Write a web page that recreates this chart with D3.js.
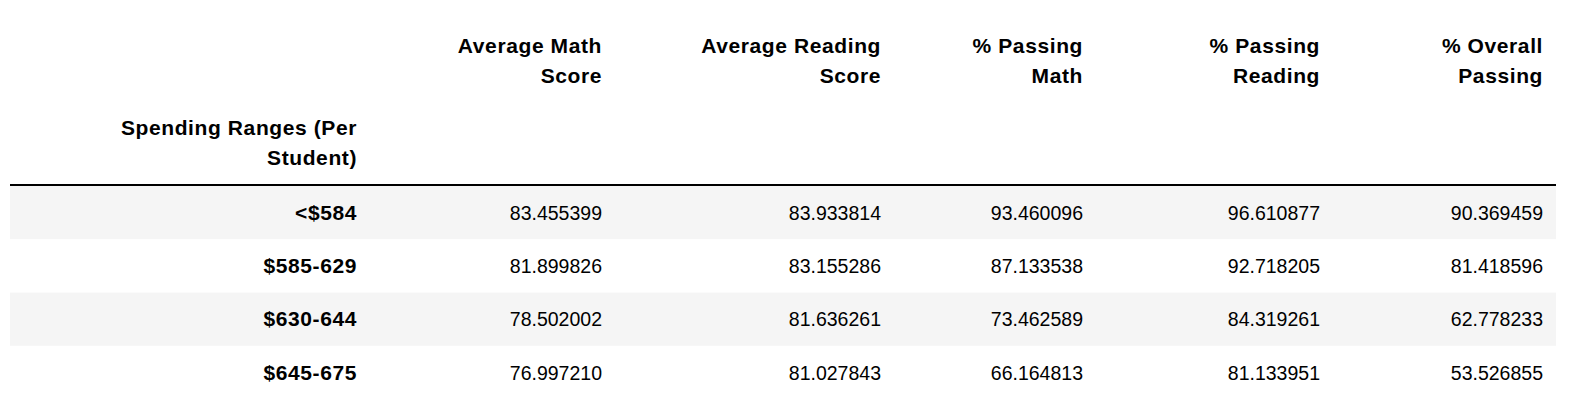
<!DOCTYPE html>
<html>
<head>
<meta charset="utf-8">
<script src="https://cdn.jsdelivr.net/npm/d3@7"></script>
<style>
  body { margin: 0; background: #fff; }
  text { font-family: "Liberation Sans", Arial, Helvetica, sans-serif; font-size: 19.5px; fill: #000; }
  .bold { font-weight: bold; font-size: 21px; letter-spacing: 0.6px; }
</style>
</head>
<body>
<svg id="chart" width="1592" height="400"></svg>
<script>
// table data
var indexName = ['Spending Ranges (Per', 'Student)'];
var columns = [
	['Average Math', 'Score'],
	['Average Reading', 'Score'],
	['% Passing', 'Math'],
	['% Passing', 'Reading'],
	['% Overall', 'Passing']
];
var rowLabels = ['<$584', '$585-629', '$630-644', '$645-675'];
var avgMath = [83.455399, 81.899826, 78.502002, 76.997210];
var avgReading = [83.933814, 83.155286, 81.636261, 81.027843];
var pctMath = [93.460096, 87.133538, 73.462589, 66.164813];
var pctReading = [96.610877, 92.718205, 84.319261, 81.133951];
var pctOverall = [90.369459, 81.418596, 62.778233, 53.526855];

var series = [avgMath, avgReading, pctMath, pctReading, pctOverall];

/*
 * Layout
 */
var svg = d3.select('#chart');
var left = 10, right = 1556;
var colRight = [357, 602, 881, 1083, 1320, 1543];
var lineY = 185;
var rowH = 53.3;

var y = d3.scaleBand().domain(d3.range(rowLabels.length))
	.range([lineY + 1, lineY + 1 + rowH * rowLabels.length]).padding(0);

// row stripes
svg.selectAll('rect.stripe').data(rowLabels).enter().append('rect')
	.attr('x', left).attr('width', right - left)
	.attr('y', function (d, i) { return y(i); })
	.attr('height', y.bandwidth())
	.attr('fill', function (d, i) { return i % 2 === 0 ? '#f5f5f5' : '#fff'; });

// header rule
svg.append('line').attr('x1', left).attr('x2', right)
	.attr('y1', lineY).attr('y2', lineY)
	.attr('stroke', '#000').attr('stroke-width', 2);

// column headers
columns.forEach(function (lines, c) {
	svg.append('text').attr('class', 'bold').attr('text-anchor', 'end')
		.attr('x', colRight[c + 1]).attr('y', 53).text(lines[0]);
	svg.append('text').attr('class', 'bold').attr('text-anchor', 'end')
		.attr('x', colRight[c + 1]).attr('y', 83).text(lines[1]);
});

// index name
indexName.forEach(function (t, i) {
	svg.append('text').attr('class', 'bold').attr('text-anchor', 'end')
		.attr('x', colRight[0]).attr('y', 135 + i * 30).text(t);
});

// row labels
svg.selectAll('text.rowlabel').data(rowLabels).enter().append('text')
	.attr('class', 'rowlabel bold').attr('text-anchor', 'end')
	.attr('x', colRight[0])
	.attr('y', function (d, i) { return y(i) + y.bandwidth() / 2 + 7; })
	.text(function (d) { return d; });

// values
series.forEach(function (vals, c) {
	svg.selectAll('text.col' + c).data(vals).enter().append('text')
		.attr('class', 'col' + c).attr('text-anchor', 'end')
		.attr('x', colRight[c + 1])
		.attr('y', function (d, i) { return y(i) + y.bandwidth() / 2 + 7; })
		.text(function (d) { return d.toFixed(6); });
});
</script>
</body>
</html>
